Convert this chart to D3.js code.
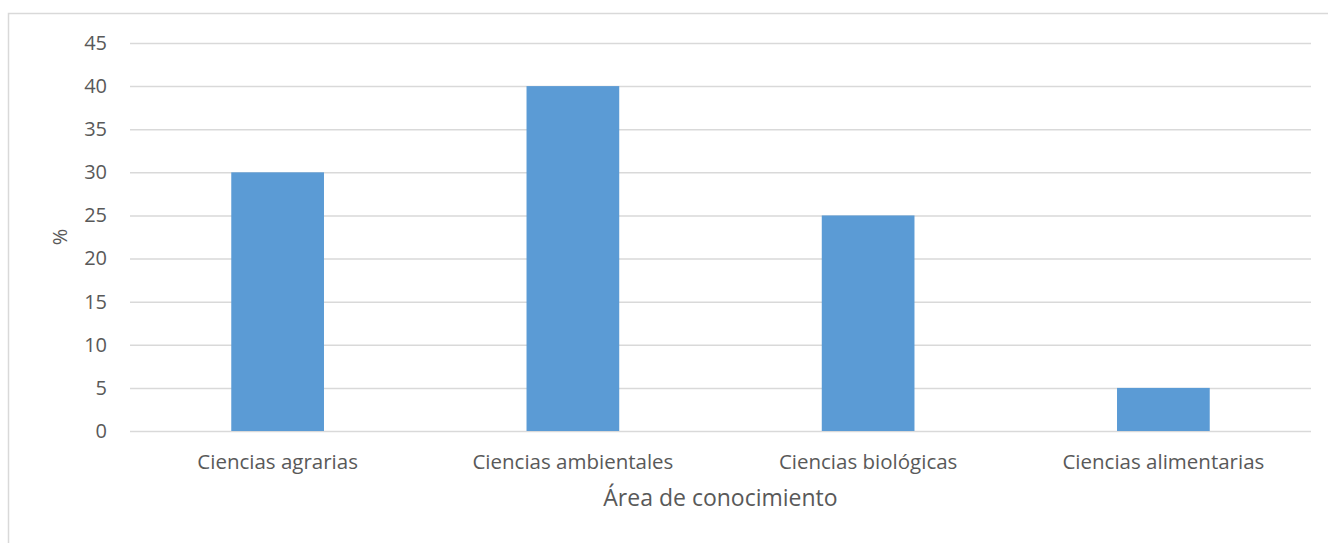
<!DOCTYPE html>
<html lang="es">
  <head>
    <meta charset="UTF-8" />
    <title>Área de conocimiento</title>
    <script src="https://d3js.org/d3.v7.min.js"></script>
    <style>
      body {
        margin: 0;
        padding: 0;
        background: #ffffff;
        font-family: "Open Sans", Arial, sans-serif;
      }
      svg {
        display: block;
      }
      text {
        fill: #595959;
      }
    </style>
  </head>
  <body>
    <script>
      const w = 1328;
      const h = 543;
      const margin = { top: 43, right: 17, bottom: 112, left: 130 };

      const categories = [
        "Ciencias agrarias",
        "Ciencias ambientales",
        "Ciencias biológicas",
        "Ciencias alimentarias",
      ];
      const values = [30, 40, 25, 5];
      const yTicks = [0, 5, 10, 15, 20, 25, 30, 35, 40, 45];
      const xTitle = "Área de conocimiento";
      const yTitle = "%";

      const svg = d3
        .select("body")
        .append("svg")
        .attr("width", w)
        .attr("height", h);

      // chart frame
      svg
        .append("rect")
        .attr("x", 8.5)
        .attr("y", 13.5)
        .attr("width", w + 20)
        .attr("height", h + 20)
        .attr("fill", "none")
        .attr("stroke", "#d9d9d9")
        .attr("stroke-width", 1.5);

      const xScale = d3
        .scaleBand()
        .domain(categories)
        .range([margin.left, w - margin.right])
        .paddingInner(0.686)
        .paddingOuter(0.343);

      const yScale = d3
        .scaleLinear()
        .domain([0, 45])
        .range([h - margin.bottom, margin.top]);

      // gridlines + y labels
      const yAxis = d3
        .axisLeft(yScale)
        .tickValues(yTicks)
        .tickSize(-(w - margin.right - margin.left))
        .tickPadding(23)
        .tickFormat(d3.format("d"));

      const gy = svg
        .append("g")
        .attr("transform", `translate(${margin.left}, 0)`)
        .call(yAxis);
      gy.select(".domain").remove();
      gy.selectAll(".tick line")
        .attr("stroke", "#d9d9d9")
        .attr("stroke-width", 1.5);
      gy.selectAll(".tick text")
        .style("font-family", "'Open Sans', sans-serif")
        .style("font-size", "20px")
        .attr("fill", "#595959");

      // bars
      svg
        .append("g")
        .selectAll("rect")
        .data(values)
        .join("rect")
        .attr("x", (d, i) => xScale(categories[i]))
        .attr("y", (d) => yScale(d))
        .attr("width", xScale.bandwidth())
        .attr("height", (d) => yScale(0) - yScale(d))
        .attr("fill", "#5b9bd5");

      // x axis labels
      const xAxis = d3.axisBottom(xScale).tickSize(0).tickPadding(23);
      const gx = svg
        .append("g")
        .attr("transform", `translate(0, ${h - margin.bottom})`)
        .call(xAxis);
      gx.select(".domain").remove();
      gx.selectAll(".tick text")
        .style("font-family", "'Open Sans', sans-serif")
        .style("font-size", "20.5px")
        .attr("fill", "#595959");

      // axis titles
      svg
        .append("text")
        .attr("x", (margin.left + w - margin.right) / 2)
        .attr("y", 506)
        .attr("text-anchor", "middle")
        .style("font-size", "23px")
        .text(xTitle);

      svg
        .append("text")
        .attr("transform", `translate(67, ${(margin.top + h - margin.bottom) / 2}) rotate(-90)`)
        .attr("text-anchor", "middle")
        .style("font-size", "20px")
        .text(yTitle);
    </script>
  </body>
</html>
